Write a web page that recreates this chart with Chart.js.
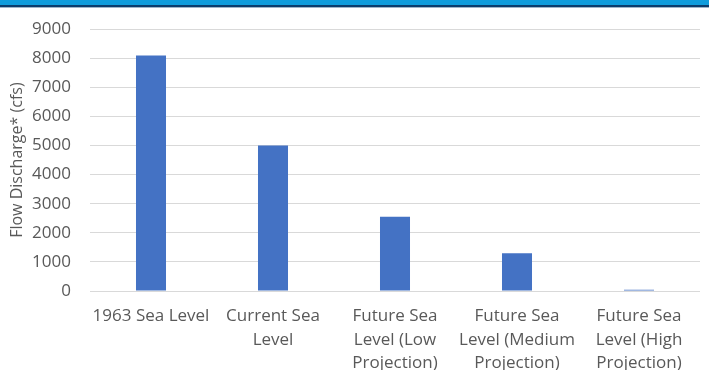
<!DOCTYPE html>
<html>
<head>
<meta charset="utf-8">
<script src="https://cdn.jsdelivr.net/npm/chart.js@4"></script>
<style>
  html, body { margin: 0; padding: 0; background: #fff; }
  #wrap { position: relative; width: 709px; height: 370px; overflow: hidden; }
  #band { position: absolute; left: 0; top: 0; width: 709px; height: 5px; background: #0f9cdc; }
  #band2 { position: absolute; left: 0; top: 5px; width: 709px; height: 2px; background: #0b3c6c; }
  #band3 { position: absolute; left: 0; top: 7px; width: 709px; height: 1px; background: #9fb4c8; }
</style>
</head>
<body>
<div id="wrap">
  <canvas id="chartFlow" width="709" height="370"></canvas>
  <div id="band"></div><div id="band2"></div><div id="band3"></div>
</div>
<script>
const BLUE = "#4472c4", MUTED = "#595959", GRID = "#d9d9d9";

const scenarios = [
  ["1963 Sea Level"],
  ["Current Sea", "Level"],
  ["Future Sea", "Level (Low", "Projection)"],
  ["Future Sea", "Level (Medium", "Projection)"],
  ["Future Sea", "Level (High", "Projection)"]
];
const discharge = [8100, 5000, 2550, 1300, 40];
const yTicks = [0, 1000, 2000, 3000, 4000, 5000, 6000, 7000, 8000, 9000];
const yTitle = "Flow Discharge* (cfs)";

Chart.defaults.font.family = "'Open Sans', sans-serif";
Chart.defaults.color = MUTED;

new Chart(document.getElementById("chartFlow"), {
  type: "bar",
  data: {
    labels: scenarios,
    datasets: [{
      label: "Flow",
      data: discharge,
      backgroundColor: BLUE,
      borderWidth: 0,
      categoryPercentage: 1,
      barPercentage: 0.246
    }]
  },
  options: {
    responsive: false,
    animation: false,
    layout: { padding: { top: 27, right: 9, left: 0, bottom: 0 } },
    plugins: { legend: { display: false }, tooltip: { enabled: false } },
    scales: {
      x: {
        grid: { display: false },
        border: { display: false },
        ticks: {
          color: MUTED,
          font: { size: 17, lineHeight: 1.4 },
          padding: 5,
          maxRotation: 0,
          autoSkip: false
        },
        afterFit: s => { s.height = 79; }
      },
      y: {
        min: yTicks[0],
        max: yTicks[yTicks.length - 1],
        afterBuildTicks: s => { s.ticks = yTicks.map(v => ({ value: v })); },
        grid: { color: GRID, drawTicks: false },
        border: { display: false },
        ticks: { color: MUTED, font: { size: 17 }, padding: 19, callback: v => String(v) },
        title: { display: true, text: yTitle, color: MUTED, font: { size: 16 }, padding: { top: 8, bottom: 0 } },
        afterFit: s => { s.width = 90; }
      }
    }
  }
});
</script>
</body>
</html>
